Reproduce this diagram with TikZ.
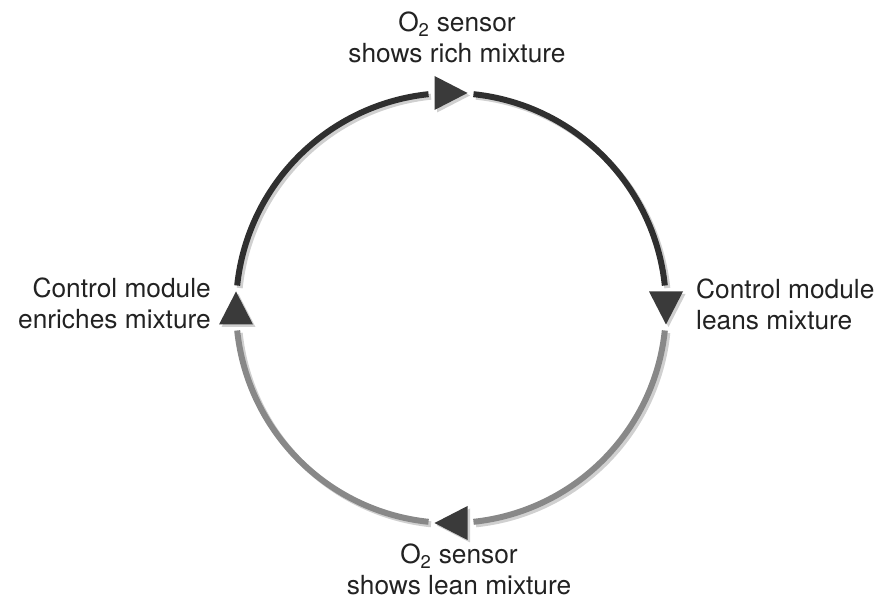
\documentclass[tikz,border=0pt]{standalone}
\usepackage{fontspec}
\setmainfont{TeX Gyre Heros}
\definecolor{darkarc}{HTML}{2F2F2F}
\definecolor{grayarc}{HTML}{888888}
\definecolor{shadowc}{HTML}{D0D0D0}
\definecolor{arrowc}{HTML}{3A3A3A}
\definecolor{textc}{HTML}{222222}
\newcommand{\cyctri}[3]{%
  \fill[#3, shift={(#1)}, rotate=#2] (16.5,0) -- (-16.5,17) -- (-16.5,-17) -- cycle;}
\begin{document}
\begin{tikzpicture}[x=1pt,y=1pt,
  ring/.style={line width=6pt},
  lab/.style={font=\fontsize{26.3}{31}\selectfont, inner sep=0pt, text=textc}]
\useasboundingbox (0,0) rectangle (878,602);
\pgfmathsetmacro{\R}{215}
\coordinate (C) at (451,294);
\coordinate (Cs) at (453.5,291.5);
\coordinate (top) at ([shift={(90:\R)}]C);
\coordinate (right) at ([shift={(0:\R)}]C);
\coordinate (bottom) at ([shift={(270:\R)}]C);
\coordinate (left) at ([shift={(180:\R)}]C);
\coordinate (tops) at ([shift={(90:\R)}]Cs);
\coordinate (rights) at ([shift={(0:\R)}]Cs);
\coordinate (bottoms) at ([shift={(270:\R)}]Cs);
\coordinate (lefts) at ([shift={(180:\R)}]Cs);
% shadows
\draw[ring, shadowc] ([shift={(174:\R)}]Cs) arc[start angle=174, end angle=96, radius=\R];
\draw[ring, shadowc] ([shift={(84:\R)}]Cs) arc[start angle=84, end angle=6, radius=\R];
\draw[ring, shadowc] ([shift={(-6:\R)}]Cs) arc[start angle=-6, end angle=-84, radius=\R];
\draw[ring, shadowc] ([shift={(-96:\R)}]Cs) arc[start angle=-96, end angle=-174, radius=\R];
\cyctri{tops}{0}{shadowc}
\cyctri{rights}{-90}{shadowc}
\cyctri{bottoms}{180}{shadowc}
\cyctri{lefts}{90}{shadowc}
% arcs
\draw[ring, darkarc] ([shift={(174:\R)}]C) arc[start angle=174, end angle=96, radius=\R];
\draw[ring, darkarc] ([shift={(84:\R)}]C) arc[start angle=84, end angle=6, radius=\R];
\draw[ring, grayarc] ([shift={(-6:\R)}]C) arc[start angle=-6, end angle=-84, radius=\R];
\draw[ring, grayarc] ([shift={(-96:\R)}]C) arc[start angle=-96, end angle=-174, radius=\R];
% arrowheads
\cyctri{top}{0}{arrowc}
\cyctri{right}{-90}{arrowc}
\cyctri{bottom}{180}{arrowc}
\cyctri{left}{90}{arrowc}
% labels
\node[lab, align=center, anchor=base] (toplab) at (457,539) {O\textsubscript{2} sensor\\shows rich mixture};
\node[lab, align=left, anchor=base west] (rightlab) at (696,272) {Control module\\leans mixture};
\node[lab, align=right, anchor=base east] (leftlab) at (211,273) {Control module\\enriches mixture};
\node[lab, align=center, anchor=base] (bottomlab) at (459,7) {O\textsubscript{2} sensor\\shows lean mixture};
\end{tikzpicture}
\end{document}
